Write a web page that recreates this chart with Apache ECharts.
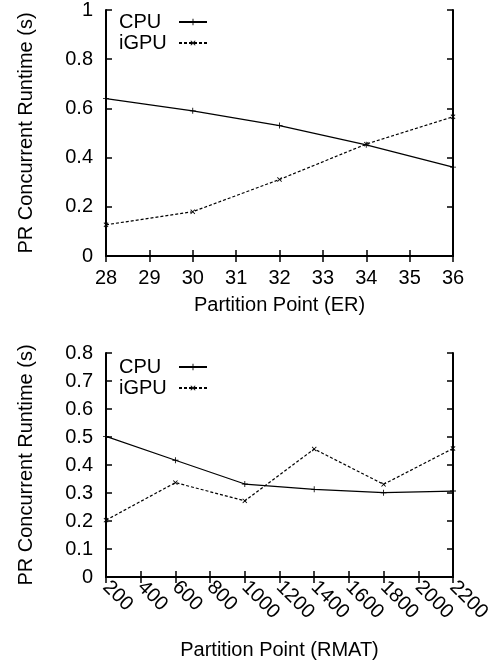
<!DOCTYPE html>
<html>
<head>
<meta charset="utf-8">
<script src="https://cdn.jsdelivr.net/npm/echarts@6/dist/echarts.min.js"></script>
<style>
html,body{margin:0;padding:0;background:#fff;}
#c{width:502px;height:666px;}
</style>
</head>
<body>
<div id="c"></div>
<script>
// Top chart (ER)
const erX = [28, 30, 32, 34, 36];
const erCPU = [0.64, 0.59, 0.53, 0.452, 0.361];
const erIGPU = [0.127, 0.18, 0.311, 0.455, 0.566];
// Bottom chart (RMAT)
const rmatX = [200, 600, 1000, 1400, 1800, 2200];
const rmatCPU = [0.502, 0.417, 0.332, 0.313, 0.301, 0.307];
const rmatIGPU = [0.203, 0.337, 0.272, 0.457, 0.331, 0.459];

const seriesNames = ['CPU', 'iGPU'];
const yTitle = 'PR Concurrent Runtime (s)';
const xTitleTop = 'Partition Point (ER)';
const xTitleBottom = 'Partition Point (RMAT)';

const FONT = 'Liberation Sans';
const FS = 20;
const plusPath = 'path://M4.3,0H5.7V4.3H10V5.7H5.7V10H4.3V5.7H0V4.3H4.3Z';

function pairs(xs, ys) { return xs.map((x, i) => [x, ys[i]]); }

const axisLine = { show: true, lineStyle: { color: '#000', width: 2 } };
const tick = { show: true, inside: true, length: 6, lineStyle: { color: '#000', width: 1.5 } };
const label = { color: '#000', fontFamily: FONT, fontSize: FS, formatter: v => String(v) };
const nameStyle = { color: '#000', fontFamily: FONT, fontSize: FS };

function mainX(grid, min, max, interval, name, gap, rotate, margin) {
  return {
    type: 'value', gridIndex: grid, position: 'bottom', min, max, interval,
    axisLine, axisTick: tick, splitLine: { show: false },
    axisLabel: Object.assign({ margin: margin, rotate: rotate }, label),
    name, nameLocation: 'middle', nameGap: gap, nameTextStyle: nameStyle
  };
}
function mirrorX(grid, min, max, interval) {
  return {
    type: 'value', gridIndex: grid, position: 'top', min, max, interval,
    axisLine, axisTick: tick, splitLine: { show: false }, axisLabel: { show: false }
  };
}
function mainY(grid, min, max, interval) {
  return {
    type: 'value', gridIndex: grid, position: 'left', min, max, interval,
    axisLine, axisTick: tick, splitLine: { show: false },
    axisLabel: Object.assign({ margin: 13 }, label),
    name: yTitle, nameLocation: 'middle', nameGap: 70, nameTextStyle: nameStyle
  };
}
function mirrorY(grid, min, max, interval) {
  return {
    type: 'value', gridIndex: grid, position: 'right', min, max, interval,
    axisLine, axisTick: tick, splitLine: { show: false }, axisLabel: { show: false }
  };
}

function cpuSeries(xIdx, yIdx, data) {
  return {
    name: seriesNames[0], type: 'line', xAxisIndex: xIdx, yAxisIndex: yIdx,
    data, symbol: plusPath, symbolSize: 6, showSymbol: true,
    lineStyle: { color: '#000', width: 1.2, type: 'solid' },
    itemStyle: { color: '#000' }, animation: false
  };
}
function gpuSeries(xIdx, yIdx, data) {
  return {
    name: seriesNames[1], type: 'line', xAxisIndex: xIdx, yAxisIndex: yIdx,
    data, symbol: plusPath, symbolRotate: 45, symbolSize: 6, showSymbol: true,
    lineStyle: { color: '#000', width: 1.2, type: [3, 2] },
    itemStyle: { color: '#000' }, animation: false
  };
}

function legend(top) {
  return {
    data: seriesNames, orient: 'vertical', left: 119, top: top, padding: 0,
    align: 'right', itemWidth: 28, itemHeight: 8, itemGap: 1,
    formatter: '{t|{name}}',
    textStyle: {
      color: '#000', fontFamily: FONT, fontSize: FS,
      rich: { t: { width: 55, align: 'left', fontFamily: FONT, fontSize: FS, color: '#000', lineHeight: 20 } }
    }
  };
}

const chart = echarts.init(document.getElementById('c'), null, { renderer: 'canvas' });
chart.setOption({
  animation: false,
  backgroundColor: '#fff',
  textStyle: { fontFamily: FONT },
  grid: [
    { left: 106, top: 7, width: 347, height: 249 },
    { left: 106, top: 353, width: 347, height: 224 }
  ],
  legend: [legend(12), legend(357)],
  xAxis: [
    mainX(0, 28, 36, 1, xTitleTop, 39, 0, 12),
    mirrorX(0, 28, 36, 1),
    mainX(1, 200, 2200, 200, xTitleBottom, 63, -45, 7),
    mirrorX(1, 200, 2200, 200)
  ],
  yAxis: [
    mainY(0, 0, 1, 0.2),
    mirrorY(0, 0, 1, 0.2),
    mainY(1, 0, 0.8, 0.1),
    mirrorY(1, 0, 0.8, 0.1)
  ],
  series: [
    cpuSeries(0, 0, pairs(erX, erCPU)),
    gpuSeries(0, 0, pairs(erX, erIGPU)),
    cpuSeries(2, 2, pairs(rmatX, rmatCPU)),
    gpuSeries(2, 2, pairs(rmatX, rmatIGPU))
  ]
});
</script>
</body>
</html>
